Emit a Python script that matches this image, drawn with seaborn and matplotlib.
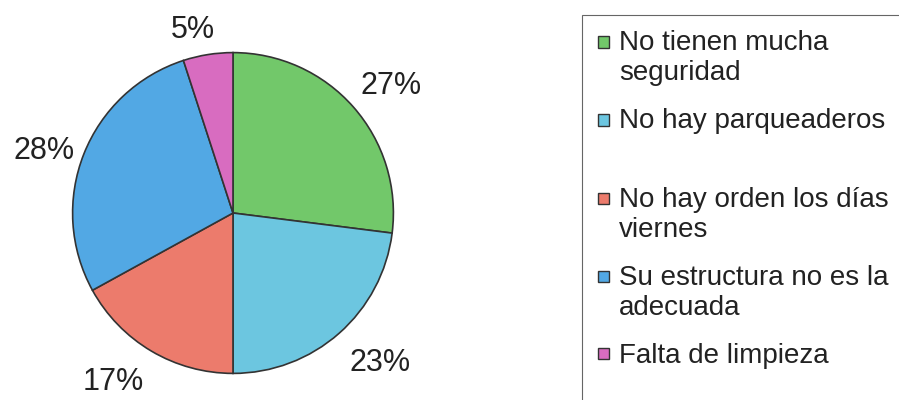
import matplotlib
matplotlib.use("Agg")
import numpy as np
import matplotlib.pyplot as plt
from matplotlib.patches import Rectangle, Patch
from matplotlib.legend_handler import HandlerBase
import seaborn as sns

categories = ["No tienen mucha\nseguridad", "No hay parqueaderos\n ",
              "No hay orden los días\nviernes", "Su estructura no es la\nadecuada",
              "Falta de limpieza"]
values = [27, 23, 17, 28, 5]
colors = ["#72c86a", "#6cc6e0", "#ec7b6c", "#52a8e4", "#d86cc0"]
label_dist = [1.265, 1.31, 1.29, 1.24, 1.17]
label_rot = [-2.7, 3.0, -4.8, 3.3, 3.2]

sns.set_theme(style="white")
plt.rcParams['font.family'] = ['Liberation Sans', 'DejaVu Sans']

fig = plt.figure(figsize=(8.99, 4.0), dpi=100)
fig.patch.set_facecolor("white")
ax = fig.add_axes([71/899, 25/400, 324/899, 324/400])
pal = sns.color_palette(colors)
wedges, texts, autotexts = ax.pie(values, colors=pal, startangle=90, counterclock=False,
                                  autopct='%1.0f%%', pctdistance=1.25,
                                  wedgeprops=dict(edgecolor="#333333", linewidth=1.2),
                                  textprops=dict(fontsize=22, color="#222222"))
for w, t, d, r in zip(wedges, autotexts, label_dist, label_rot):
    ang = np.deg2rad((w.theta1 + w.theta2) / 2 + r)
    t.set_position((d * np.cos(ang), d * np.sin(ang)))
ax.set_xlim(-1.01, 1.01)
ax.set_ylim(-1.01, 1.01)
ax.set_aspect("equal")
ax.axis("off")


class FirstLineHandler(HandlerBase):
    def create_artists(self, legend, orig_handle, xdescent, ydescent, width, height,
                       fontsize, trans):
        size = fontsize * 0.42
        nlines = orig_handle.get_label().count("\n")
        x = -xdescent + (width - size) / 2
        y = -ydescent + (height - size) / 2 + fontsize * (0.6 * nlines)
        r = Rectangle((x, y), size, size, facecolor=orig_handle.get_facecolor(),
                      edgecolor="#333333", linewidth=1.0, transform=trans)
        return [r]


handles = [Patch(facecolor=c, label=lab) for c, lab in zip(colors, categories)]
leg = fig.legend(handles, categories, loc="upper left",
                 bbox_to_anchor=(582/899, 1 - 15/400), bbox_transform=fig.transFigure,
                 fontsize=20, frameon=False,
                 borderpad=0.55, handlelength=0.45, handletextpad=0.33,
                 labelspacing=0.8, borderaxespad=0,
                 handler_map={Patch: FirstLineHandler()})
for t in leg.get_texts():
    t.set_color("#222222")
fig.patches.append(Rectangle((582/899, -0.1), 0.5, 1.1 - 15/400, transform=fig.transFigure,
                             fill=False, edgecolor="#666666", linewidth=0.8, figure=fig))

fig.savefig("out.png", dpi=100, facecolor="white")
